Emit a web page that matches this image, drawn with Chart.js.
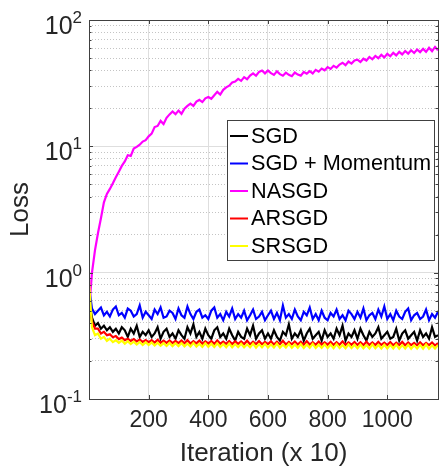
<!DOCTYPE html>
<html><head><meta charset="utf-8">
<script src="https://cdn.jsdelivr.net/npm/chart.js@4.4.1/dist/chart.umd.min.js"></script>
<style>html,body{margin:0;padding:0;background:#fff;overflow:hidden}#wrap{position:relative;width:439px;height:467px}</style>
</head><body><div id="wrap"><canvas id="c" width="439" height="467"></canvas></div>
<script>
// ---------- data ----------
const iterations = [
  0,10,20,30,40,50,60,70,80,90,
  100,110,120,130,140,150,160,170,180,190,
  200,210,220,230,240,250,260,270,280,290,
  300,310,320,330,340,350,360,370,380,390,
  400,410,420,430,440,450,460,470,480,490,
  500,510,520,530,540,550,560,570,580,590,
  600,610,620,630,640,650,660,670,680,690,
  700,710,720,730,740,750,760,770,780,790,
  800,810,820,830,840,850,860,870,880,890,
  900,910,920,930,940,950,960,970,980,990,
  1000,1010,1020,1030,1040,1050,1060,1070,1080,1090,
  1100,1110,1120,1130,1140,1150,1160,1170];

const sgdLoss = [
  0.62,0.44,0.38,0.40,0.36,0.38,0.35,0.37,0.34,0.36,
  0.33,0.37,0.35,0.31,0.36,0.33,0.38,0.31,0.34,0.32,
  0.35,0.31,0.33,0.37,0.30,0.34,0.36,0.31,0.33,0.30,
  0.35,0.32,0.30,0.37,0.33,0.39,0.31,0.34,0.30,0.36,
  0.32,0.30,0.35,0.37,0.31,0.33,0.30,0.36,0.32,0.29,
  0.34,0.31,0.30,0.36,0.32,0.38,0.30,0.33,0.35,0.30,
  0.33,0.30,0.35,0.31,0.29,0.34,0.32,0.39,0.30,0.33,
  0.31,0.35,0.29,0.33,0.36,0.30,0.32,0.34,0.29,0.35,
  0.31,0.33,0.30,0.36,0.32,0.38,0.29,0.33,0.31,0.35,
  0.30,0.36,0.32,0.29,0.34,0.31,0.33,0.37,0.30,0.32,
  0.34,0.30,0.31,0.36,0.29,0.33,0.35,0.30,0.32,0.34,
  0.29,0.35,0.31,0.33,0.30,0.37,0.31,0.32];

const momentumLoss = [
  0.78,0.52,0.47,0.50,0.53,0.46,0.49,0.45,0.51,0.54,
  0.46,0.48,0.44,0.52,0.50,0.45,0.47,0.55,0.44,0.49,
  0.46,0.43,0.51,0.47,0.53,0.44,0.45,0.50,0.48,0.43,
  0.52,0.46,0.44,0.54,0.47,0.43,0.49,0.51,0.44,0.46,
  0.43,0.50,0.53,0.44,0.47,0.42,0.49,0.45,0.52,0.43,
  0.47,0.44,0.50,0.42,0.46,0.51,0.43,0.45,0.49,0.42,
  0.46,0.50,0.43,0.48,0.42,0.55,0.44,0.47,0.43,0.51,
  0.45,0.42,0.49,0.46,0.53,0.43,0.47,0.42,0.50,0.44,
  0.42,0.48,0.45,0.51,0.43,0.46,0.42,0.50,0.47,0.43,
  0.49,0.44,0.52,0.42,0.46,0.48,0.43,0.51,0.45,0.54,
  0.43,0.47,0.42,0.50,0.45,0.43,0.49,0.52,0.42,0.46,
  0.48,0.43,0.45,0.51,0.42,0.47,0.44,0.49];

const nasgdLoss = [
  0.5,1.0,1.5,2.05,2.7,3.6,4.2,4.6,5.1,5.7,
  6.3,7.0,7.6,8.5,8.4,9.6,9.9,10.3,10.9,11.2,
  12.0,12.6,14.2,14.5,15.9,15.0,16.8,17.9,18.9,18.0,
  19.2,18.1,19.9,20.9,21.8,20.9,22.6,23.3,22.4,24.0,
  24.6,23.8,25.4,27.0,25.7,28.0,29.3,30.2,32.0,32.6,
  34.2,33.0,35.3,34.0,36.3,37.8,36.2,38.8,39.8,37.8,
  39.8,38.0,36.8,39.2,37.3,36.2,38.3,36.8,35.9,38.4,
  37.0,36.3,38.8,37.6,39.4,37.8,40.3,39.0,41.3,40.0,
  42.4,41.0,43.4,42.0,44.4,45.9,43.9,46.9,45.2,47.9,
  48.6,46.5,49.4,47.8,51.0,48.9,52.0,49.9,53.0,50.6,
  54.0,51.6,55.0,52.5,56.0,53.4,56.8,54.2,57.6,54.8,
  58.4,55.7,59.1,56.0,60.2,56.7,61.2,57.6];

const arsgdLoss = [
  0.55,0.41,0.36,0.36,0.33,0.34,0.32,0.325,0.308,0.315,
  0.298,0.306,0.292,0.30,0.288,0.298,0.286,0.295,0.283,0.293,
  0.282,0.292,0.28,0.294,0.279,0.29,0.278,0.291,0.277,0.289,
  0.277,0.29,0.276,0.292,0.275,0.287,0.276,0.29,0.274,0.286,
  0.275,0.288,0.273,0.291,0.274,0.285,0.273,0.288,0.272,0.286,
  0.273,0.285,0.272,0.289,0.271,0.284,0.272,0.287,0.271,0.283,
  0.272,0.286,0.27,0.284,0.271,0.289,0.27,0.283,0.271,0.285,
  0.27,0.284,0.269,0.287,0.27,0.282,0.269,0.285,0.27,0.281,
  0.269,0.284,0.268,0.282,0.269,0.286,0.268,0.281,0.269,0.283,
  0.268,0.281,0.267,0.284,0.268,0.28,0.267,0.283,0.268,0.279,
  0.267,0.282,0.266,0.279,0.267,0.283,0.266,0.28,0.267,0.278,
  0.266,0.281,0.266,0.278,0.267,0.28,0.265,0.277];

const srsgdLoss = [
  0.86,0.37,0.32,0.33,0.30,0.31,0.288,0.30,0.282,0.292,
  0.278,0.29,0.274,0.287,0.272,0.284,0.27,0.283,0.268,0.281,
  0.267,0.28,0.265,0.279,0.264,0.277,0.263,0.278,0.262,0.276,
  0.262,0.277,0.261,0.275,0.26,0.278,0.26,0.274,0.259,0.276,
  0.259,0.274,0.258,0.276,0.258,0.273,0.257,0.275,0.257,0.272,
  0.257,0.274,0.256,0.271,0.256,0.275,0.255,0.272,0.256,0.273,
  0.255,0.271,0.255,0.274,0.254,0.27,0.255,0.273,0.254,0.27,
  0.254,0.272,0.253,0.27,0.254,0.273,0.253,0.269,0.254,0.271,
  0.253,0.27,0.252,0.272,0.253,0.268,0.252,0.271,0.253,0.269,
  0.252,0.27,0.252,0.267,0.251,0.271,0.252,0.268,0.251,0.269,
  0.251,0.268,0.251,0.27,0.25,0.267,0.251,0.269,0.25,0.266,
  0.251,0.268,0.25,0.27,0.25,0.266,0.251,0.267];

const seriesNames  = ['SGD', 'SGD + Momentum', 'NASGD', 'ARSGD', 'SRSGD'];
const seriesValues = [sgdLoss, momentumLoss, nasgdLoss, arsgdLoss, srsgdLoss];
const seriesColors = ['#000000', '#0000ff', '#ff00ff', '#ff0000', '#ffff00'];

const xTickValues   = [200, 400, 600, 800, 1000];
const yMajorTicks   = [0.1, 1, 10, 100];
const yTickBase     = '10';
const yTickExponent = ['-1', '0', '1', '2'];
const yMinorTicks   = [0.2,0.3,0.4,0.5,0.6,0.7,0.8,0.9, 2,3,4,5,6,7,8,9, 20,30,40,50,60,70,80,90];
const xTitle = 'Iteration (x 10)';
const yTitle = 'Loss';

// ---------- drawing ----------
const FONT = '"Liberation Sans", Arial, Helvetica, sans-serif';
const TEXT = '#262626';
const AXIS = '#404040';

const datasets = seriesNames.map((name, i) => ({
  label: name,
  data: seriesValues[i].map((v, k) => ({x: iterations[k], y: v})),
  borderColor: seriesColors[i],
  backgroundColor: seriesColors[i],
  borderWidth: 2.2,
  pointRadius: 0,
  tension: 0,
  fill: false,
  order: seriesNames.length - 1 - i
}));

const matlabAxes = {
  id: 'matlabAxes',
  afterDatasetsDraw(chart) {
    const {ctx, chartArea: a, scales: {x, y}} = chart;
    ctx.save();
    ctx.strokeStyle = AXIS;
    ctx.lineWidth = 1;
    ctx.beginPath();
    xTickValues.forEach(v => {
      const px = Math.round(x.getPixelForValue(v)) + 0.5;
      ctx.moveTo(px, a.bottom); ctx.lineTo(px, a.bottom - 4);
      ctx.moveTo(px, a.top); ctx.lineTo(px, a.top + 4);
    });
    yMajorTicks.forEach(v => {
      const py = Math.round(y.getPixelForValue(v)) + 0.5;
      ctx.moveTo(a.left, py); ctx.lineTo(a.left + 4, py);
      ctx.moveTo(a.right, py); ctx.lineTo(a.right - 4, py);
    });
    yMinorTicks.forEach(v => {
      const py = Math.round(y.getPixelForValue(v)) + 0.5;
      ctx.moveTo(a.left, py); ctx.lineTo(a.left + 2.5, py);
      ctx.moveTo(a.right, py); ctx.lineTo(a.right - 2.5, py);
    });
    ctx.stroke();
    ctx.strokeRect(Math.round(a.left) + 0.5, Math.round(a.top) + 0.5,
                   Math.round(a.right - a.left), Math.round(a.bottom - a.top));
    ctx.restore();
  },
  afterDraw(chart) {
    const {ctx, chartArea: a, scales: {y}} = chart;
    ctx.save();
    // y tick labels with superscript exponent
    const rightEdge = a.left - 7;
    yMajorTicks.forEach((v, i) => {
      const py = y.getPixelForValue(v);
      ctx.fillStyle = TEXT;
      ctx.textBaseline = 'alphabetic';
      ctx.font = '17px ' + FONT;
      const we = ctx.measureText(yTickExponent[i]).width;
      ctx.textAlign = 'left';
      ctx.fillText(yTickExponent[i], rightEdge - we, py + 3);
      ctx.font = '25px ' + FONT;
      ctx.textAlign = 'right';
      ctx.fillText(yTickBase, rightEdge - we, py + 14);
    });
    // legend box
    const lx = a.left + 138, ly = a.top + 100, lw = 207, lh = 140;
    ctx.fillStyle = '#ffffff';
    ctx.fillRect(lx, ly, lw, lh);
    ctx.strokeStyle = AXIS;
    ctx.lineWidth = 1;
    ctx.strokeRect(Math.round(lx) + 0.5, Math.round(ly) + 0.5, lw, lh);
    ctx.font = '21.7px ' + FONT;
    ctx.textAlign = 'left';
    ctx.textBaseline = 'middle';
    seriesNames.forEach((name, i) => {
      const cy = ly + 16 + i * 27.5;
      ctx.strokeStyle = seriesColors[i];
      ctx.lineWidth = 2;
      ctx.beginPath();
      ctx.moveTo(lx + 3, cy); ctx.lineTo(lx + 21, cy);
      ctx.stroke();
      ctx.fillStyle = '#000000';
      ctx.fillText(name, lx + 24, cy + 1);
    });
    ctx.restore();
  }
};

new Chart(document.getElementById('c'), {
  type: 'line',
  data: {datasets},
  plugins: [matlabAxes],
  options: {
    responsive: false,
    animation: false,
    devicePixelRatio: 1,
    layout: {padding: {top: 20, right: 1, left: 0, bottom: 0}},
    plugins: {legend: {display: false}, tooltip: {enabled: false}},
    scales: {
      x: {
        type: 'linear',
        min: 0, max: 1170,
        afterBuildTicks: s => { s.ticks = xTickValues.map(v => ({value: v})); },
        afterFit: s => { s.height = 68; },
        grid: {color: '#dedede', lineWidth: 1, drawTicks: false},
        border: {display: false},
        ticks: {
          font: {family: FONT, size: 23}, color: TEXT, padding: 8, maxRotation: 0,
          autoSkip: false, callback: v => String(v)
        },
        title: {display: true, text: xTitle, color: TEXT,
                font: {family: FONT, size: 26, lineHeight: 1}, padding: {top: 0, bottom: 0}}
      },
      y: {
        type: 'logarithmic',
        min: 0.1, max: 100,
        afterBuildTicks: s => {
          const all = yMajorTicks.concat(yMinorTicks).sort((p, q) => p - q);
          s.ticks = all.map(v => ({value: v, major: yMajorTicks.includes(v)}));
        },
        afterFit: s => { s.width = 89; },
        grid: {
          color: c => (c.tick && c.tick.major) ? '#dedede' : '#c4c4c4',
          lineWidth: 1, drawTicks: false
        },
        border: {display: false, dash: c => (c.tick && c.tick.major) ? [] : [1, 2]},
        ticks: {display: false},
        title: {display: true, text: yTitle, color: TEXT,
                font: {family: FONT, size: 26, lineHeight: 1}, padding: {top: 8, bottom: 0}}
      }
    }
  }
});
</script>
</body></html>
